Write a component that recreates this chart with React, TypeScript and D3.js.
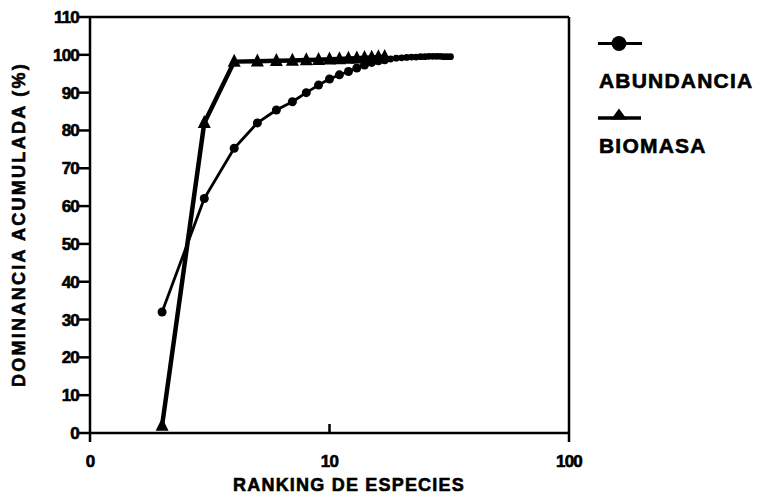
import React from "react";
import * as d3 from "d3";

const abundRanks = [2,3,4,5,6,7,8,9,10,11,12,13,14,15,16,17,18,19,20,21,22,23,24,25,26,27,28,29,30,31,32];
const abundValues = [32,62,75.3,82,85.4,87.6,90,92,93.6,94.7,95.6,96.5,97.3,98,98.4,98.7,98.9,99.1,99.2,99.3,99.4,99.4,99.5,99.5,99.6,99.6,99.6,99.6,99.5,99.5,99.5];
const bioRanks = [2,3,4,5,6,7,8,9,10,11,12,13,14,15,16,17];
const bioValues = [2,82,98.2,98.3,98.4,98.5,98.6,98.7,98.8,98.9,99,99.1,99.2,99.3,99.4,99.5];
const yTicks = [0,10,20,30,40,50,60,70,80,90,100,110];
const xTickValues = [1,10,100];
const xTickLabels = ["0","10","100"];
const legendLabels = ["ABUNDANCIA","BIOMASA"];
const xTitle = "RANKING DE ESPECIES";
const yTitle = "DOMINANCIA ACUMULADA (%)";

const W = 766, H = 496;
const FONT = "'Liberation Sans', Arial, sans-serif";

export default function App() {
  const x = d3.scaleLog().domain([1, 100]).range([90, 569]);
  const y = d3.scaleLinear().domain([0, 110]).range([433, 17]);
  const line = d3.line<[number, number]>().x(d => x(d[0])).y(d => y(d[1]));
  const abund: [number, number][] = abundRanks.map((r, i) => [r, abundValues[i]]);
  const bio: [number, number][] = bioRanks.map((r, i) => [r, bioValues[i]]);
  const tri = (cx: number, cy: number, w: number, h: number) =>
    `M${cx},${cy - h * 0.6}L${cx + w / 2},${cy + h * 0.4}L${cx - w / 2},${cy + h * 0.4}Z`;
  const x0 = x(1), x1 = x(100), yB = y(0), yT = y(110);
  const txt = { stroke: "#000", strokeWidth: 0.6 } as const;
  return (
    <svg width={W} height={H} style={{ position: "absolute", left: 0, top: 0, background: "#fff" }}
      fontFamily={FONT} fontWeight="bold">
      <rect width={W} height={H} fill="#fff" />
      <g stroke="#000" strokeWidth={2.5} fill="none">
        <line x1={x0} y1={yT} x2={x0} y2={yB + 9} />
        <line x1={x0} y1={yB} x2={x1} y2={yB} />
        <line x1={x0} y1={yT} x2={x1} y2={yT} />
        <line x1={x1} y1={yT} x2={x1} y2={yB + 9} />
        {yTicks.map(t => (
          <line key={t} x1={x0 - 11} x2={x0} y1={y(t)} y2={y(t)} />
        ))}
        <line x1={x(10)} x2={x(10)} y1={yB - 9} y2={yB} />
      </g>
      {yTicks.map(t => (
        <text key={t} x={x0 - 11} y={y(t) + 6} textAnchor="end" fontSize={17} letterSpacing={-0.8} {...txt}>{t}</text>
      ))}
      {xTickValues.map((v, i) => (
        <text key={v} x={x(v)} y={467} textAnchor="middle" fontSize={17} letterSpacing={-0.8} {...txt}>{xTickLabels[i]}</text>
      ))}
      <text x={349} y={491} textAnchor="middle" fontSize={18} letterSpacing={1.2} {...txt}>{xTitle}</text>
      <text transform="translate(25,224.5) rotate(-90)" textAnchor="middle" fontSize={18} letterSpacing={2.3} {...txt}>{yTitle}</text>
      <path d={line(bio) || ""} fill="none" stroke="#000" strokeWidth={4.5} strokeLinejoin="round" />
      {bio.map((d, i) => (
        <path key={i} d={tri(x(d[0]), y(d[1]), 13, 13)} fill="#000" />
      ))}
      <path d={line(abund) || ""} fill="none" stroke="#000" strokeWidth={2.8} strokeLinejoin="round" />
      {abund.map((d, i) => (
        <circle key={i} cx={x(d[0])} cy={y(d[1])} r={i < 16 ? 4.5 : 3.4} fill="#000" />
      ))}
      <line x1={598} x2={642} y1={43.5} y2={43.5} stroke="#000" strokeWidth={3} />
      <circle cx={619} cy={43.5} r={7.5} fill="#000" />
      <text x={599} y={88} fontSize={21} letterSpacing={1.2} {...txt}>{legendLabels[0]}</text>
      <line x1={598} x2={641} y1={118} y2={118} stroke="#000" strokeWidth={3.5} />
      <path d={tri(619, 115, 16, 11)} fill="#000" />
      <text x={599} y={153} fontSize={21} letterSpacing={1.2} {...txt}>{legendLabels[1]}</text>
    </svg>
  );
}
